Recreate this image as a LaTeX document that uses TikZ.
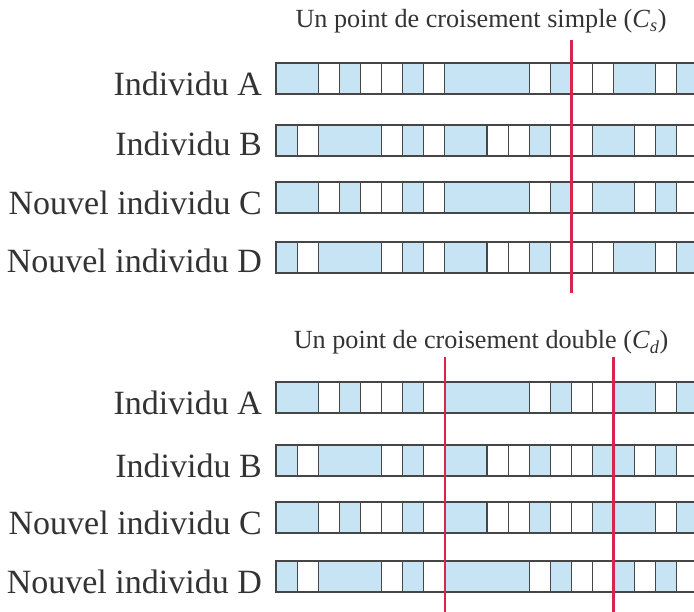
\documentclass[tikz,border=0pt]{standalone}
\usepackage{fontspec}
\setmainfont{Liberation Serif}

\definecolor{genblue}{RGB}{198,228,243}
\definecolor{cutred}{RGB}{214,38,78}
\definecolor{edgegray}{RGB}{70,70,70}

\tikzset{
  gen1/.style={draw=edgegray, fill=genblue, line width=1.1pt},
  gen0/.style={draw=edgegray, fill=white, line width=1.1pt},
  indlabel/.style={anchor=base east, inner sep=0pt, font=\fontsize{34}{40}\selectfont, text=black!80},
  headline/.style={anchor=base, inner sep=0pt, font=\fontsize{26.2}{31}\selectfont, text=black!80},
  cutline/.style={draw=cutred, line width=2.6pt}
}

% one chromosome: #1 = top, #2 = list start/end/gene
\newcommand{\chromo}[2]{%
  \foreach \a/\b/\g in {#2}
    \draw[gen\g] ({276+\a*21.1},#1) rectangle ({276+\b*21.1},#1+31);
}

\begin{document}
\begin{tikzpicture}[x=1pt,y=-1pt]
  \useasboundingbox (0,0) rectangle (694,612);

  % croisement simple
  \node (simple) at (481,28) [headline] {Un point de croisement simple (\textit{C}\textsubscript{\textit{s}})};
  \node (sA) at (262,96)  [indlabel] {Individu A};
  \node (sB) at (262,156) [indlabel] {Individu B};
  \node (sC) at (262,215) [indlabel] {Nouvel individu C};
  \node (sD) at (262,273) [indlabel] {Nouvel individu D};

  \begin{scope}
    \clip (0,0) rectangle (694,612);
    \chromo{63}{0/2/1,2/3/0,3/4/1,4/5/0,5/6/0,6/7/1,7/8/0,8/12/1,12/13/0,13/14/1,14/15/0,15/16/0,16/18/1,18/19/0,19/21/1}
    \chromo{125}{0/1/1,1/2/0,2/5/1,5/6/0,6/7/1,7/8/0,8/10/1,10/11/0,11/12/0,12/13/1,13/14/0,14/15/0,15/17/1,17/18/0,18/19/1,19/21/0}
    \chromo{182}{0/2/1,2/3/0,3/4/1,4/5/0,5/6/0,6/7/1,7/8/0,8/12/1,12/13/0,13/14/1,14/15/0,15/17/1,17/18/0,18/19/1,19/21/0}
    \chromo{242}{0/1/1,1/2/0,2/5/1,5/6/0,6/7/1,7/8/0,8/10/1,10/11/0,11/12/0,12/13/1,13/14/0,14/15/0,15/16/0,16/18/1,18/19/0,19/21/1}

    % croisement double
    \chromo{382}{0/2/1,2/3/0,3/4/1,4/5/0,5/6/0,6/7/1,7/8/0,8/12/1,12/13/0,13/14/1,14/15/0,15/16/0,16/18/1,18/19/0,19/21/1}
    \chromo{445}{0/1/1,1/2/0,2/5/1,5/6/0,6/7/1,7/8/0,8/10/1,10/11/0,11/12/0,12/13/1,13/14/0,14/15/0,15/17/1,17/18/0,18/19/1,19/21/0}
    \chromo{502}{0/2/1,2/3/0,3/4/1,4/5/0,5/6/0,6/7/1,7/8/0,8/10/1,10/11/0,11/12/0,12/13/1,13/14/0,14/15/0,15/16/1,16/18/1,18/19/0,19/21/1}
    \chromo{561}{0/1/1,1/2/0,2/5/1,5/6/0,6/7/1,7/8/0,8/12/1,12/13/0,13/14/1,14/15/0,15/16/0,16/17/1,17/18/0,18/19/1,19/21/0}
  \end{scope}

  \node (double) at (481,349) [headline] {Un point de croisement double (\textit{C}\textsubscript{\textit{d}})};
  \node (dA) at (262,415) [indlabel] {Individu A};
  \node (dB) at (262,477) [indlabel] {Individu B};
  \node (dC) at (262,534) [indlabel] {Nouvel individu C};
  \node (dD) at (262,593) [indlabel] {Nouvel individu D};

  % points de croisement
  \coordinate (cs1) at (571.4,40);
  \coordinate (cs2) at (571.4,293);
  \coordinate (cd1) at (444.8,357);
  \coordinate (cd2) at (444.8,612);
  \coordinate (cd3) at (613.6,357);
  \coordinate (cd4) at (613.6,612);
  \draw[cutline] (cs1) -- (cs2);
  \draw[cutline] (cd1) -- (cd2);
  \draw[cutline] (cd3) -- (cd4);
\end{tikzpicture}
\end{document}
